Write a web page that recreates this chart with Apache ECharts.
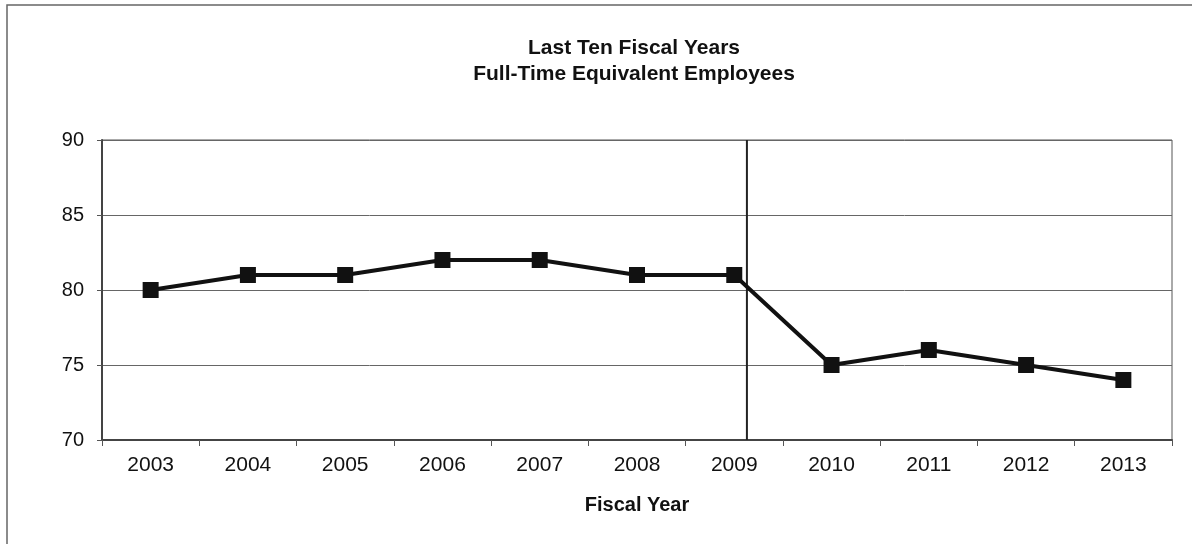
<!DOCTYPE html>
<html><head><meta charset="utf-8">
<script src="https://cdn.jsdelivr.net/npm/echarts@6/dist/echarts.min.js"></script>
<style>html,body{margin:0;padding:0;background:#fff}#c{width:1192px;height:544px}</style>
</head><body><div id="c"></div>
<script>
const titleLines = ['Last Ten Fiscal Years', 'Full-Time Equivalent Employees'];
const categories = ['2003','2004','2005','2006','2007','2008','2009','2010','2011','2012','2013'];
const employees = [80, 81, 81, 82, 82, 81, 81, 75, 76, 75, 74];
const yTicks = { min: 70, max: 90, interval: 5 };
const dividerIndex = 6.13; // vertical divider position, in category units
const xAxisName = 'Fiscal Year';

const chart = echarts.init(document.getElementById('c'), null, {renderer: 'canvas'});
const font = 'Liberation Sans, Arial, sans-serif';
chart.setOption({
  animation: false,
  graphic: [{ type: 'rect', shape: { x: 7, y: 5, width: 1200, height: 560 }, style: { fill: 'none', stroke: '#666', lineWidth: 1.5 }, silent: true }],
  title: {
    text: titleLines.join('\n'), left: 629, top: 30, textAlign: 'center',
    textStyle: { fontFamily: font, fontSize: 21, fontWeight: 'bold', color: '#111', lineHeight: 26 }
  },
  grid: { left: 102, right: 20, top: 140, bottom: 104, show: true, borderColor: '#555', borderWidth: 1, backgroundColor: 'transparent' },
  xAxis: [{
    type: 'category', data: categories, boundaryGap: true,
    name: xAxisName, nameLocation: 'middle', nameGap: 55,
    nameTextStyle: { fontFamily: font, fontSize: 20, fontWeight: 'bold', color: '#111' },
    axisLine: { onZero: false, lineStyle: { color: '#444', width: 2 } },
    axisTick: { show: true, inside: false, length: 6, lineStyle: { color: '#555' } },
    axisLabel: { fontFamily: font, fontSize: 21, color: '#111', margin: 15 },
    splitLine: { show: false }
  }, {
    type: 'value', min: -0.5, max: 10.5, show: false
  }],
  yAxis: {
    type: 'value', min: yTicks.min, max: yTicks.max, interval: yTicks.interval,
    axisLine: { show: true, onZero: false, lineStyle: { color: '#444', width: 2 } },
    axisTick: { show: true, length: 5, lineStyle: { color: '#555' } },
    axisLabel: { fontFamily: font, fontSize: 20, color: '#111', margin: 18 },
    splitLine: { show: true, lineStyle: { color: '#666', width: 1 } }
  },
  series: [{
    type: 'line', xAxisIndex: 1, silent: true, symbol: 'none',
    data: [[dividerIndex, yTicks.min], [dividerIndex, yTicks.max]],
    lineStyle: { color: '#222', width: 2 }, z: 1
  }, {
    type: 'line', data: employees, xAxisIndex: 0,
    symbol: 'rect', symbolSize: 16,
    itemStyle: { color: '#111' },
    lineStyle: { color: '#111', width: 4 }, z: 3
  }]
});
</script></body></html>
